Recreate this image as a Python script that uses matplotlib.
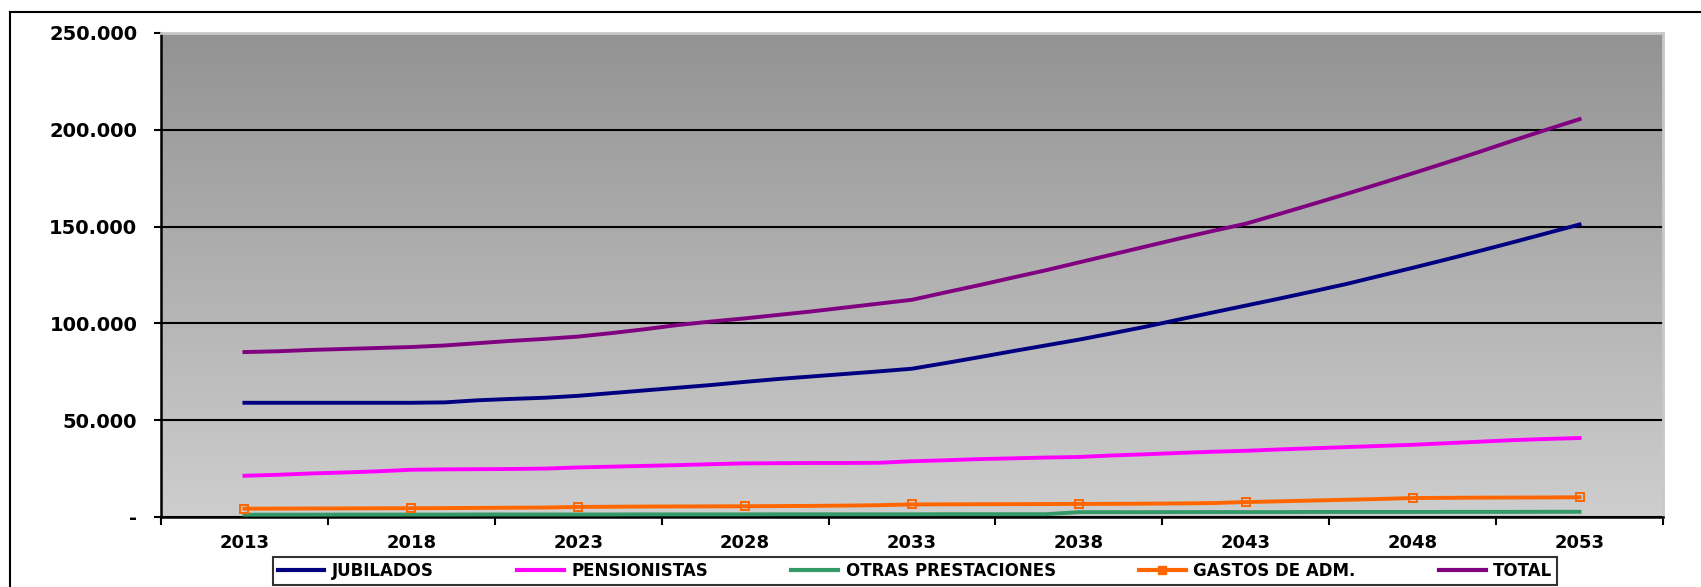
import numpy as np
import matplotlib
matplotlib.use("Agg")
import matplotlib.pyplot as plt
from matplotlib.lines import Line2D
from matplotlib.ticker import FuncFormatter

years = list(range(2013, 2054))

jubilados = [59000, 59000, 59000, 59000, 59000, 59000, 59200, 60300, 61000, 61600,
             62600, 64000, 65400, 66800, 68200, 69800, 71300, 72600, 73900, 75200,
             76600, 79500, 82500, 85600, 88600, 91600, 94900, 98300, 102000, 105600,
             109200, 112800, 116500, 120300, 124500, 128700, 133000, 137400, 141900, 146500,
             151100]

pensionistas = [21300, 21800, 22500, 23000, 23600, 24400, 24600, 24700, 24800, 25000,
                25600, 26000, 26400, 26800, 27300, 27700, 27800, 27900, 27900, 28000,
                28800, 29300, 29900, 30300, 30700, 31000, 31800, 32400, 33100, 33700,
                34200, 34900, 35500, 36100, 36700, 37300, 38100, 38900, 39700, 40300,
                40800]

otras = [1200, 1200, 1200, 1250, 1250, 1250, 1250, 1300, 1300, 1300,
         1300, 1300, 1350, 1350, 1350, 1350, 1400, 1400, 1400, 1400,
         1400, 1450, 1450, 1450, 1450, 2500, 2500, 2500, 2550, 2550,
         2550, 2550, 2600, 2600, 2600, 2600, 2650, 2650, 2650, 2700,
         2700]

gastos = [4300, 4350, 4400, 4450, 4500, 4550, 4600, 4700, 4800, 4900,
          5200, 5300, 5400, 5450, 5500, 5550, 5650, 5750, 5900, 6100,
          6500, 6550, 6600, 6650, 6700, 6750, 6800, 6900, 7000, 7200,
          7700, 8100, 8500, 8900, 9300, 9800, 9900, 10000, 10050, 10100,
          10200]

total = [85200, 85600, 86300, 86800, 87300, 87800, 88600, 89800, 91000, 92000,
         93200, 95000, 97000, 99200, 101000, 102600, 104400, 106200, 108200, 110200,
         112200, 116000, 119700, 123600, 127400, 131500, 135600, 139700, 143800, 147700,
         151500, 156500, 161600, 166800, 172100, 177500, 183000, 188600, 194400, 200000,
         205500]

series_names = ["JUBILADOS", "PENSIONISTAS", "OTRAS PRESTACIONES", "GASTOS DE ADM.", "TOTAL"]
series_colors = ["#000080", "#FF00FF", "#339966", "#FF6600", "#800080"]
label_years = years[::5]

W, H = 1701, 587
fig = plt.figure(figsize=(W / 100, H / 100), dpi=100)
fig.patch.set_facecolor("white")

# plot area in pixels: x 161..1663, y 33..517
ax = fig.add_axes([161 / W, (H - 517) / H, (1663 - 161) / W, (517 - 33) / H])

# gradient background
grad = np.linspace(0, 1, 256).reshape(-1, 1)
cmap = matplotlib.colors.LinearSegmentedColormap.from_list("bg", ["#939393", "#cecece"])
ax.imshow(grad, cmap=cmap, aspect="auto", extent=[0, 1, 0, 1],
          transform=ax.transAxes, zorder=0)

ax.set_xlim(2010.5, 2055.5)
ax.set_ylim(0, 250000)

ax.yaxis.grid(True, color="black", linewidth=1.5, zorder=1)
ax.set_axisbelow(True)

all_series = [jubilados, pensionistas, otras, gastos, total]
for name, color, vals in zip(series_names, series_colors, all_series):
    if name == "GASTOS DE ADM.":
        ax.plot(years, vals, color=color, linewidth=2.8, marker="s", markersize=6,
                markevery=5, markerfacecolor="none", markeredgecolor=color,
                markeredgewidth=1.4, zorder=3, label=name)
    else:
        ax.plot(years, vals, color=color, linewidth=2.8, zorder=3, label=name)

# axes look
for side in ["left", "bottom"]:
    ax.spines[side].set_color("black")
    ax.spines[side].set_linewidth(1.8)
for side in ["top", "right"]:
    ax.spines[side].set_color("#c8c8c8")
    ax.spines[side].set_linewidth(2)

ax.set_yticks([0, 50000, 100000, 150000, 200000, 250000])
ax.yaxis.set_major_formatter(FuncFormatter(
    lambda v, p: "-" if v == 0 else f"{int(v):,}".replace(",", ".")))
ax.tick_params(axis="y", direction="out", length=5, width=1.5, pad=12,
               labelsize=14, colors="black")
for lbl in ax.get_yticklabels():
    lbl.set_fontweight("bold")

ax.set_xticks(np.arange(2010.5, 2056, 5))
ax.set_xticklabels([])
ax.set_xticks(label_years, minor=True)
ax.set_xticklabels([str(y) for y in label_years], minor=True,
                   fontsize=13, fontweight="bold")
ax.tick_params(axis="x", which="major", direction="out", length=6, width=1.5)
ax.tick_params(axis="x", which="minor", length=0, pad=12)

# legend
handles = []
for name, color in zip(series_names, series_colors):
    if name == "GASTOS DE ADM.":
        handles.append(Line2D([], [], color=color, linewidth=3, marker="s",
                              markersize=6, markerfacecolor=color))
    else:
        handles.append(Line2D([], [], color=color, linewidth=3))
leg = fig.legend(handles, series_names, loc="center", ncol=5,
                 bbox_to_anchor=((273 + 1557) / 2 / W, 1 - 571 / H),
                 prop={"weight": "bold", "size": 12}, frameon=True,
                 fancybox=False, edgecolor="black", handlelength=2.8,
                 handletextpad=0.45, columnspacing=5.0, borderpad=0.3)
leg.get_frame().set_linewidth(1.5)

# chart area border
fig.add_artist(Line2D([10 / W, 10 / W], [0, 1 - 12 / H], color="black",
                      linewidth=1.5, transform=fig.transFigure))
fig.add_artist(Line2D([10 / W, 1], [1 - 12 / H, 1 - 12 / H], color="black",
                      linewidth=1.5, transform=fig.transFigure))

fig.savefig("out.png", dpi=100)
